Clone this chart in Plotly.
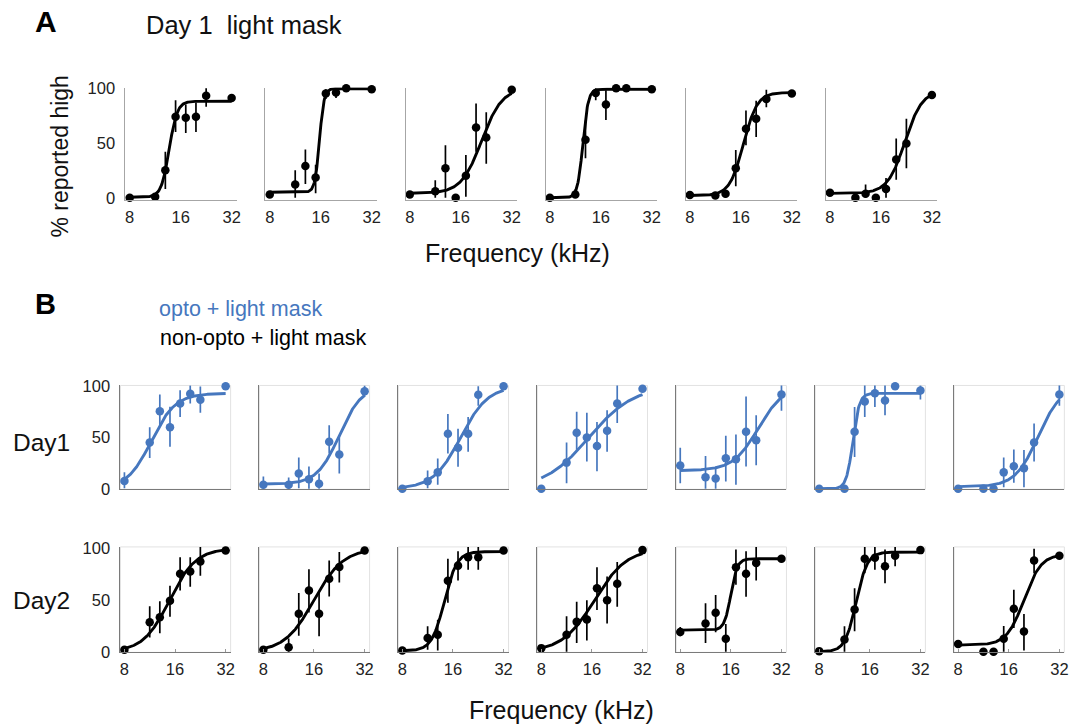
import numpy as np
import plotly.graph_objects as go

# ---------------- data ----------------
FREQ_KHZ = [8.0, 11.31, 12.99, 14.93, 17.15, 19.70, 22.63, 32.0]
X_TICKS = [8, 16, 32]
X_TICK_TEXT = ["8", "16", "32"]
Y_TICKS = [0, 50, 100]
Y_TICK_TEXT = ["0", "50", "100"]

# Panel A: Day 1, light mask (6 mice) - % reported high
A_PCT = [
    [0, 1, 25, 74, 73, 74, 93, 91],
    [3, 12, 29, 18.5, 95, 96, 100, 99],
    [3, 6, 27, 0, 20, 64, 55, 98.5],
    [0, 3, 53, 95.5, 85, 100, 100, 99],
    [2.4, 2, 3.6, 27, 63, 72, 90, 95],
    [4.5, 0, 3.6, 0, 8, 35, 49.5, 93.7],
]
A_LOW = [
    [0, 0, 8, 60, 59, 60, 83, 91],
    [3, 0, 12.5, 4, 90, 91, 100, 99],
    [3, 0, 0, 0, 1, 42, 31, 98.5],
    [0, 0, 36, 89, 71, 100, 100, 99],
    [2.4, 0, 0, 10.5, 48, 55.5, 82.6, 95],
    [4.5, 0, 0, 0, 0, 16.5, 27, 93.7],
]
A_HIGH = [
    [0, 4, 42, 89, 85, 87, 100, 91],
    [3, 25, 44, 30, 99, 100, 100, 99],
    [3, 16, 48, 0, 39, 86, 78, 98.5],
    [0, 8, 70.5, 100, 98, 100, 100, 99],
    [2.4, 5, 7, 43.5, 79.6, 88.6, 98.5, 95],
    [4.5, 0, 12, 0, 18, 54, 72, 93.7],
]
# sigmoid fit parameters: (lower %, upper %, midpoint [octaves above 8 kHz], slope scale [octaves])
A_FIT = [
    (0.5, 88, 0.775, 0.078),
    (5, 99.5, 0.975, 0.045),
    (4, 100, 1.41, 0.20),
    (0, 99, 0.648, 0.053),
    (2, 96, 1.05, 0.135),
    (4, 98, 1.47, 0.17),
]

# Panel B, Day 1: opto + light mask (7 mice)
B1_PCT = [
    [7.7, 45, 75.5, 60, 83, 92.6, 86.8, 100],
    [3.9, 3.9, 15, 9.4, 4.8, 45.8, 33.5, 95],
    [0, 7.4, 16, 53.7, 40, 53.7, 91.6, 100],
    [0, 25.5, 54.5, 50, 41.6, 56.5, 83, 97.4],
    [22.6, 11.3, 10, 29.7, 28.7, 55.5, 47.4, 92],
    [0, 0, 55.5, 85, 93, 86, 100, 95.8],
    [0, 0, 0, 16, 22, 20, 45, 92],
]
B1_LOW = [
    [0.6, 30, 62, 41, 70, 83, 74, 100],
    [0, 0, 0.6, 0, 0, 34.5, 15, 90],
    [0, 0.6, 3.9, 34.4, 21.5, 36, 81, 100],
    [0, 5.5, 38, 26.5, 17, 36, 64, 97.4],
    [5.5, 0, 0, 7, 4, 21.6, 23, 76],
    [0, 0, 31, 70, 79.7, 71.6, 100, 87],
    [0, 0, 0, 1.6, 6, 1.6, 26.5, 81],
]
B1_HIGH = [
    [16, 60, 92, 80, 96, 101, 99.7, 100],
    [12, 11, 30.6, 21.6, 15, 62, 52, 100.6],
    [0, 17.7, 29.6, 73, 58.5, 70, 100, 100],
    [0, 45, 75, 74, 65, 76.5, 102, 97.4],
    [40, 32, 21.6, 51.6, 53, 90, 71.6, 101.6],
    [0, 0, 79.7, 101.6, 101.6, 101.6, 100, 101],
    [0, 0, 0, 30.6, 38.4, 37.7, 63.5, 101.6],
]
B1_FIT = [
    (0, 93, 0.53, 0.24),
    (4.5, 100, 1.50, 0.22),
    (0, 100, 1.15, 0.27),
    (0, 100, 0.94, 0.44),
    (17.7, 100, 1.54, 0.25),
    (0, 93, 0.665, 0.065),
    (2, 100, 1.58, 0.227),
]

# Panel B, Day 2: non-opto + light mask (same 7 mice)
B2_PCT = [
    [2, 28.7, 33.5, 49.4, 75.5, 77.7, 87.4, 98],
    [2, 4.5, 36.8, 59.4, 36.8, 70.6, 82, 98],
    [1.3, 13.4, 16.6, 68.7, 83.4, 91.5, 91.5, 98],
    [3.6, 16.6, 29, 31.3, 61.6, 50, 65.8, 98.4],
    [19.2, 27.4, 37.8, 12.7, 81.8, 75.6, 86, 90],
    [0.7, 12, 41, 90, 91, 82.7, 93, 98.4],
    [7.7, 0, 0, 12.6, 41.6, 19.7, 88.4, 93],
]
B2_LOW = [
    [2, 14, 18, 34, 59.4, 63, 73.5, 98],
    [2, 0, 15.5, 38, 15, 53.5, 67, 98],
    [1.3, 2, 1.3, 47.6, 69, 79.5, 79.5, 98],
    [3.6, 0, 8.5, 11, 40.4, 27.4, 43.6, 98.4],
    [15, 8.5, 19, 0, 64.8, 53.4, 69, 90],
    [0.7, 0, 20, 76, 79.5, 66.4, 82.7, 98.4],
    [7.7, 0, 0, 0, 23, 1.3, 76, 93],
]
B2_HIGH = [
    [2, 44, 49, 64, 91.6, 91.6, 102, 98],
    [2, 13, 57, 80, 57, 88.4, 96.5, 98],
    [1.3, 24.8, 31, 90, 97.4, 102, 102, 98],
    [3.6, 34.5, 48.5, 50, 81.8, 73, 87, 98.4],
    [24, 47, 55, 27, 99, 97.4, 102, 90],
    [0.7, 24.8, 61.6, 102, 102, 99, 102, 98.4],
    [7.7, 0, 0, 25, 60, 36.5, 99.7, 93],
]
B2_FIT = [
    (0, 100, 0.89, 0.26),
    (0, 100, 1.00, 0.29),
    (1, 97, 0.83, 0.125),
    (0, 100, 1.05, 0.32),
    (21, 90, 1.00, 0.065),
    (0, 96.5, 0.73, 0.11),
    (6.5, 94.5, 1.30, 0.17),
]

# ---------------- styling / layout ----------------
W, H = 1081, 726
Y_OFF, Y_SCALE = 8.0, 0.978   # vertical calibration of the photographed page
BLACK = "#000000"
BLUE = "#4677be"
FONT = "Liberation Sans, Arial, Helvetica, sans-serif"


def fx(px):
    return px / W


def fy(py):
    return 1 - ((py - Y_OFF) / Y_SCALE) / H


def sigmoid_curve(params):
    lo, hi, mid, sc = params
    f = np.geomspace(FREQ_KHZ[0], FREQ_KHZ[-1], 200)
    octv = np.log2(f / FREQ_KHZ[0])
    return f, lo + (hi - lo) / (1 + np.exp(-(octv - mid) / sc))


ROWS = [
    dict(pct=A_PCT, low=A_LOW, high=A_HIGH, fit=A_FIT, color=BLACK,
         left0=125, step=140.7, width=111.7, padl=0.0253, padr=0.0294,
         top=86.7, bottom=199, yrange=[-1.8, 100.5], xlabels=True, box=False,
         axcolor="#a6a6a6", xticks=""),
    dict(pct=B1_PCT, low=B1_LOW, high=B1_HIGH, fit=B1_FIT, color=BLUE,
         left0=120, step=139.6, width=110.7, padl=0.0237, padr=0.0296,
         top=385, bottom=489, yrange=[-0.5, 100.7], xlabels=False, box=True,
         axcolor="#7a7a7a", xticks=""),
    dict(pct=B2_PCT, low=B2_LOW, high=B2_HIGH, fit=B2_FIT, color=BLACK,
         left0=120, step=139.6, width=110.7, padl=0.0237, padr=0.0296,
         top=546.7, bottom=652.3, yrange=[-0.5, 101.5], xlabels=True, box=True,
         axcolor="#7a7a7a", xticks="inside"),
]

fig = go.Figure()
layout = dict(
    width=W, height=H, margin=dict(l=0, r=0, t=0, b=0),
    paper_bgcolor="white", plot_bgcolor="white", showlegend=False,
    hovermode=False,
    font=dict(family=FONT, color="#111"),
)
shapes = []
k = 0
for row in ROWS:
    n = len(row["pct"])
    for i in range(n):
        k += 1
        sfx = "" if k == 1 else str(k)
        xa, ya = "x" + sfx, "y" + sfx
        left = row["left0"] + row["step"] * i
        layout["xaxis" + sfx] = dict(
            domain=[fx(left), fx(left + row["width"])],
            anchor=ya, type="log",
            range=[np.log10(FREQ_KHZ[0]) - row["padl"], np.log10(FREQ_KHZ[-1]) + row["padr"]],
            tickmode="array", tickvals=X_TICKS, ticktext=X_TICK_TEXT,
            showticklabels=row["xlabels"], ticks=row["xticks"], ticklen=3,
            tickcolor="#999", ticklabelstandoff=2,
            showgrid=False, zeroline=False, showline=True,
            linecolor=row["axcolor"], linewidth=1,
            tickfont=dict(size=16.5, color="#222", family=FONT),
            fixedrange=True,
        )
        layout["yaxis" + sfx] = dict(
            domain=[fy(row["bottom"]), fy(row["top"])],
            anchor=xa, range=row["yrange"],
            tickmode="array", tickvals=Y_TICKS, ticktext=Y_TICK_TEXT,
            showticklabels=(i == 0), ticks="", ticklabelstandoff=6,
            showgrid=False, zeroline=False, showline=True,
            linecolor=row["axcolor"], linewidth=1,
            tickfont=dict(size=16.5, color="#222", family=FONT),
            fixedrange=True,
        )
        if row["box"]:
            shapes.append(dict(type="rect", xref=xa + " domain", yref=ya + " domain",
                               x0=0, x1=1, y0=0, y1=1, layer="below",
                               line=dict(color="#e2e2e2", width=1)))
        fxs, fys = sigmoid_curve(row["fit"][i])
        fig.add_trace(go.Scatter(
            x=fxs, y=fys, mode="lines", xaxis=xa, yaxis=ya,
            line=dict(color=row["color"], width=2.9), hoverinfo="skip",
        ))
        y = row["pct"][i]
        plus = [h - v for h, v in zip(row["high"][i], y)]
        minus = [v - l for l, v in zip(row["low"][i], y)]
        fig.add_trace(go.Scatter(
            x=FREQ_KHZ, y=y, mode="markers", xaxis=xa, yaxis=ya,
            marker=dict(color=row["color"], size=8.5),
            error_y=dict(type="data", symmetric=False, array=plus, arrayminus=minus,
                         color=row["color"], thickness=1.7, width=0),
            cliponaxis=False,
        ))

layout["shapes"] = shapes


def ann(text, x, y, size, color="#111", xanchor="left", yanchor="middle", bold=False, angle=0):
    return dict(text=("<b>%s</b>" % text) if bold else text, x=fx(x), y=fy(y),
                xref="paper", yref="paper", showarrow=False, xanchor=xanchor,
                yanchor=yanchor, textangle=angle,
                font=dict(size=size, color=color, family=FONT))


layout["annotations"] = [
    ann("A", 45, 21, 30, "#000", xanchor="center", bold=True),
    ann("Day 1  light mask", 144, 24, 25.5),
    ann("% reported high", 59, 156, 23, xanchor="center", angle=-90),
    ann("Frequency (kHz)", 519, 252, 25, xanchor="center"),
    ann("B", 45, 303, 29, "#000", xanchor="center", bold=True),
    ann("opto + light mask", 157, 308, 21.5, BLUE),
    ann("non-opto + light mask", 158, 337, 21.5, "#000"),
    ann("Day1", 10, 442, 24.5),
    ann("Day2", 10, 600, 24.5),
    ann("Frequency (kHz)", 563, 710, 25, xanchor="center"),
]

fig.update_layout(**layout)
fig.write_html("out.html", config={"displayModeBar": False},
               post_script="document.body.style.margin='0px';")
